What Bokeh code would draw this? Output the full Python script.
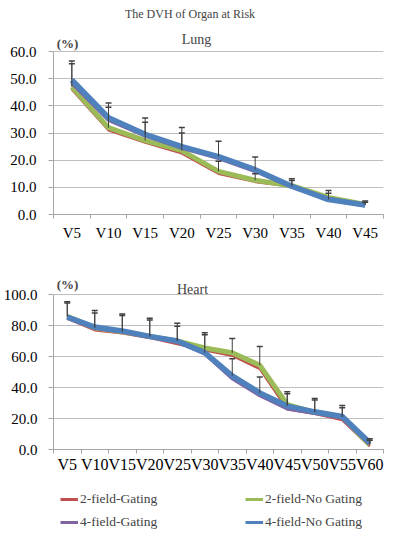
from bokeh.plotting import figure
from bokeh.models import (FactorRange, Range1d, LinearAxis, FixedTicker, Label,
                          Legend, LegendItem, Whisker, ColumnDataSource, TeeHead,
                          NumeralTickFormatter, CategoricalAxis)
from bokeh.layouts import column
from bokeh.embed import file_html
from bokeh.resources import INLINE

FONT = "'Liberation Serif'"

# ---------------- data ----------------
lung_cats = ["V5", "V10", "V15", "V20", "V25", "V30", "V35", "V40", "V45"]
lung_2f_gating = [46.0, 31.0, 26.5, 22.5, 15.0, 12.0, 10.3, 5.8, 3.4]
lung_2f_nogating = [47.0, 32.0, 27.2, 23.5, 15.9, 12.6, 10.6, 6.3, 3.7]
lung_4f_gating = [48.5, 34.8, 29.0, 24.5, 20.8, 16.0, 10.2, 5.8, 3.3]
lung_4f_nogating = [49.5, 35.6, 29.5, 25.0, 21.3, 16.5, 10.4, 5.5, 3.5]
lung_2f_sd = [8.5, 7.5, 6.8, 6.5, 3.7, 2.4, 1.9, 1.5, 0.8]
lung_4f_sd = [7.0, 5.4, 6.0, 7.0, 5.7, 4.7, 2.8, 3.3, 1.5]
lung_yticks = [0, 10, 20, 30, 40, 50, 60]

heart_cats = ["V5", "V10", "V15", "V20", "V25", "V30", "V35", "V40", "V45",
              "V50", "V55", "V60"]
heart_2f_gating = [84.5, 77.0, 75.0, 72.0, 68.0, 64.0, 60.5, 52.0, 26.0, 23.0, 19.0, 2.0]
heart_2f_nogating = [86.0, 78.5, 76.0, 73.0, 70.0, 65.5, 62.4, 54.4, 29.0, 24.0, 21.0, 3.0]
heart_4f_gating = [85.0, 78.5, 76.0, 72.5, 69.5, 62.0, 46.0, 35.0, 26.5, 23.5, 20.5, 3.5]
heart_4f_nogating = [85.5, 79.0, 76.5, 73.0, 70.0, 62.5, 47.5, 36.5, 28.0, 24.3, 21.3, 4.3]
heart_2f_sd = [8.5, 9.5, 10.5, 10.5, 9.5, 8.5, 9.2, 12.1, 7.0, 8.0, 6.0, 3.0]
heart_4f_sd = [9.8, 10.7, 11.0, 11.7, 11.5, 12.8, 11.0, 10.2, 9.2, 8.6, 7.1, 2.7]
heart_yticks = [0, 20, 40, 60, 80, 100]

series_names = ["2-field-Gating", "2-field-No Gating", "4-field-Gating", "4-field-No Gating"]
series_colors = ["#C0504D", "#9BBB59", "#8064A2", "#4F81BD"]
series_widths = [2.5, 5, 4, 5.5]

GRID = "#BFBFBF"
AXIS = "#A6A6A6"
ERR = "#404040"


def make_chart(cats, series, sds, yticks, ymax, yext, height, top, bottom,
               xfont, ystandoff, xstandoff):
    p = figure(x_range=FactorRange(*cats, range_padding=0),
               y_range=Range1d(0, yext), width=384, height=height,
               output_backend="svg", toolbar_location=None, title=None,
               min_border_left=49, min_border_right=1,
               min_border_top=top, min_border_bottom=bottom)
    p.outline_line_color = None
    p.xgrid.grid_line_color = None
    p.ygrid.grid_line_color = GRID
    p.ygrid.ticker = FixedTicker(ticks=yticks)

    # y axis
    ya = p.yaxis[0]
    ya.ticker = FixedTicker(ticks=yticks)
    ya.bounds = (0, ymax)
    ya.formatter = NumeralTickFormatter(format="0.0")
    ya.axis_line_color = AXIS
    ya.major_tick_line_color = AXIS
    ya.major_tick_out = 5
    ya.major_tick_in = 0
    ya.minor_tick_line_color = None
    ya.major_label_text_font = FONT
    ya.major_label_text_font_size = "15px"
    ya.major_label_text_color = "black"
    ya.major_label_standoff = ystandoff

    # remove default x axis; tick axis at category boundaries + label axis
    p.below.remove(p.xaxis[0])
    n = len(cats)
    ta = LinearAxis(ticker=FixedTicker(ticks=list(range(n + 1))),
                    axis_line_color=AXIS, major_tick_line_color=AXIS,
                    major_tick_out=4, major_tick_in=0, minor_tick_line_color=None,
                    major_label_text_color=None, major_label_text_font_size="1px",
                    major_label_standoff=0)
    p.add_layout(ta, "below")
    la = CategoricalAxis(axis_line_color=None, major_tick_line_color=None,
                         major_tick_out=0, major_tick_in=0,
                         major_label_text_font=FONT,
                         major_label_text_font_size=xfont,
                         major_label_text_color="black",
                         major_label_standoff=xstandoff)
    p.add_layout(la, "below")

    # error bars (upper only)
    for vals, sd in sds:
        src = ColumnDataSource(dict(x=cats, base=vals,
                                    upper=[v + s for v, s in zip(vals, sd)]))
        w = Whisker(source=src, base="x", upper="upper", lower="base",
                    dimension="height", line_color=ERR, line_width=1,
                    upper_head=TeeHead(size=6, line_color=ERR, line_width=1.5),
                    lower_head=None, level="glyph")
        p.add_layout(w)

    for vals, c, lw in zip(series, series_colors, series_widths):
        p.line(cats, vals, line_color=c, line_width=lw, line_join="round")
    return p


def label(p, x, y, text, size, bold=False):
    p.add_layout(Label(x=x, y=y, x_units="screen", y_units="screen", text=text,
                       text_font=FONT, text_font_size=size,
                       text_font_style="bold" if bold else "normal",
                       text_align="center", text_baseline="middle"))


# lung: frame 207 px high, 0..60 occupies 163 px
p1 = make_chart(lung_cats,
                [lung_2f_gating, lung_2f_nogating, lung_4f_gating, lung_4f_nogating],
                [(lung_2f_nogating, lung_2f_sd), (lung_4f_nogating, lung_4f_sd)],
                lung_yticks, 60, 60 * 207 / 163, 244, 7, 30, "15px", 12, 6)
label(p1, 138, 201, "The  DVH of Organ at Risk", "12px")
label(p1, 143, 175, "Lung", "14px")
label(p1, 14, 171, "(%)", "13px", bold=True)

# heart: frame 205 px high, 0..100 occupies 155 px
p2 = make_chart(heart_cats,
                [heart_2f_gating, heart_2f_nogating, heart_4f_gating, heart_4f_nogating],
                [(heart_2f_nogating, heart_2f_sd), (heart_4f_nogating, heart_4f_sd)],
                heart_yticks, 100, 100 * 205 / 155, 232, 0, 27, "16px", 11, 2)
label(p2, 139, 160, "Heart", "14px")
label(p2, 14, 165, "(%)", "13px", bold=True)

# legend figure (proxy lines lie outside the visible range)
p3 = figure(width=384, height=55, output_backend="svg", toolbar_location=None,
            title=None, x_axis_type=None, y_axis_type=None,
            x_range=Range1d(0, 1), y_range=Range1d(0, 1),
            min_border=0, outline_line_color=None)
p3.xgrid.grid_line_color = None
p3.ygrid.grid_line_color = None
proxies = []
for name, c in zip(series_names, series_colors):
    r = p3.line(x=[5, 6], y=[5, 6], line_color=c, line_width=3)
    proxies.append(LegendItem(label=name, renderers=[r]))


def make_legend(items, loc):
    return Legend(items=items, location=loc, orientation="vertical",
                  padding=0, margin=0, spacing=7, label_height=14, glyph_height=14,
                  glyph_width=18, label_standoff=2, label_text_font=FONT,
                  label_text_font_size="13.5px", background_fill_alpha=0,
                  border_line_color=None)


p3.add_layout(make_legend([proxies[0], proxies[2]], (7, 1)), "center")
p3.add_layout(make_legend([proxies[1], proxies[3]], (192, 1)), "center")

layout = column(p1, p2, p3, spacing=0)
open("out.html", "w").write(file_html(layout, INLINE))
